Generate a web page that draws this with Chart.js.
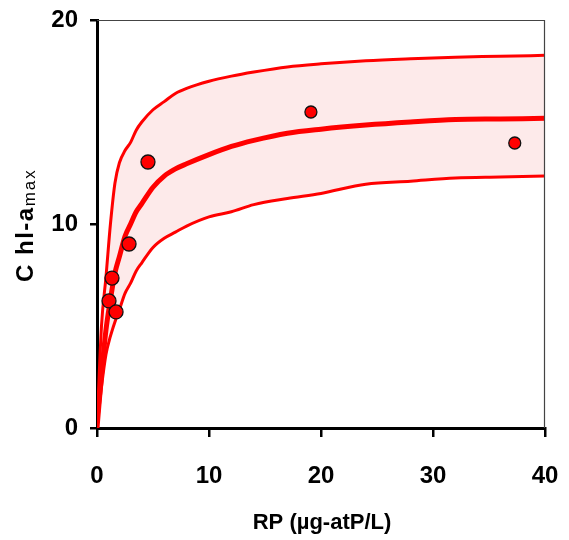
<!DOCTYPE html>
<html>
<head>
<meta charset="utf-8">
<script src="https://cdn.jsdelivr.net/npm/chart.js@4.4.0/dist/chart.umd.min.js"></script>
<style>
  html, body { margin: 0; padding: 0; background: #ffffff; }
  #wrap { width: 569px; height: 540px; }
</style>
</head>
<body>
<div id="wrap"><canvas id="c" width="569" height="540"></canvas></div>
<script>
// Curve sample x positions (RP, µg-atP/L)
const curveX   = [0, 0.4, 0.8, 1.2, 1.6, 2, 2.5, 3, 3.5, 4, 5, 6, 7, 8, 10, 12, 14, 17, 20, 24, 28, 32, 36, 40];
// Upper confidence bound
const upperY   = [0, 5.0, 7.4, 10.0, 12.0, 13.0, 13.6, 14.0, 14.6, 15.0, 15.6, 16.0, 16.4, 16.65, 17.0, 17.25, 17.45, 17.7, 17.85, 18.0, 18.1, 18.18, 18.22, 18.27];
// Fitted curve
const middleY  = [0, 2.6, 4.8, 6.3, 7.6, 8.4, 9.4, 10.0, 10.6, 11.0, 11.8, 12.35, 12.7, 12.95, 13.4, 13.8, 14.1, 14.45, 14.65, 14.85, 15.0, 15.12, 15.15, 15.18];
// Lower confidence bound
const lowerY   = [0, 2.0, 3.6, 4.5, 5.2, 5.8, 6.6, 7.1, 7.7, 8.1, 8.85, 9.3, 9.6, 9.9, 10.35, 10.6, 10.95, 11.25, 11.5, 11.95, 12.1, 12.25, 12.3, 12.35];
// Observations
const obsX     = [4.55, 2.86, 1.34, 1.07, 1.7, 19.1, 37.3];
const obsY     = [13.04, 9.02, 7.35, 6.23, 5.69, 15.49, 13.97];
// Ticks
const xTicks   = [0, 10, 20, 30, 40];
const yTicks   = [0, 10, 20];

const toXY = (xa, ya) => xa.map((x, i) => ({ x: x, y: ya[i] }));

const FONT = '"Liberation Sans", Arial, sans-serif';

const frameAndTitles = {
  id: 'frameAndTitles',
  afterDatasetsDraw(chart) {
    const ctx = chart.ctx;
    const a = chart.chartArea;
    ctx.save();
    ctx.strokeStyle = '#444444';
    ctx.lineWidth = 1.2;
    ctx.beginPath();
    ctx.moveTo(a.left, a.top + 0.5);
    ctx.lineTo(a.right - 0.5, a.top + 0.5);
    ctx.lineTo(a.right - 0.5, a.bottom);
    ctx.stroke();
    ctx.restore();
  },
  afterDraw(chart) {
    const ctx = chart.ctx;
    ctx.save();
    ctx.fillStyle = '#000000';
    ctx.font = 'bold 22px ' + FONT;
    ctx.textAlign = 'center';
    ctx.textBaseline = 'middle';
    ctx.fillText('RP (µg-atP/L)', 322, 523);
    ctx.translate(33, 282);
    ctx.rotate(-Math.PI / 2);
    ctx.textAlign = 'left';
    ctx.textBaseline = 'alphabetic';
    ctx.font = 'bold 24px ' + FONT;
    ctx.letterSpacing = '1.5px';
    const main = 'C hl-a';
    ctx.fillText(main, 0, 0);
    const w = ctx.measureText(main).width;
    ctx.font = '17px ' + FONT;
    ctx.letterSpacing = '2px';
    ctx.fillText('max', w, 2);
    ctx.restore();
  }
};

new Chart(document.getElementById('c'), {
  type: 'scatter',
  data: {
    datasets: [
      {
        label: 'Observed',
        data: toXY(obsX, obsY),
        backgroundColor: '#ff0000',
        borderColor: '#111111',
        borderWidth: 1.3,
        pointRadius: [7, 7, 7, 7, 7, 6, 6],
        pointHoverRadius: 7,
        showLine: false,
        order: 0
      },
      {
        label: 'Upper',
        data: toXY(curveX, upperY),
        showLine: true,
        borderColor: '#ff0000',
        borderWidth: 3,
        pointRadius: 0,
        cubicInterpolationMode: 'monotone',
        fill: { target: 3 },
        backgroundColor: '#fdeaea',
        order: 3
      },
      {
        label: 'Fit',
        data: toXY(curveX, middleY),
        showLine: true,
        borderColor: '#ff0000',
        borderWidth: 5,
        pointRadius: 0,
        cubicInterpolationMode: 'monotone',
        fill: false,
        order: 1
      },
      {
        label: 'Lower',
        data: toXY(curveX, lowerY),
        showLine: true,
        borderColor: '#ff0000',
        borderWidth: 3,
        pointRadius: 0,
        cubicInterpolationMode: 'monotone',
        fill: false,
        order: 2
      }
    ]
  },
  options: {
    responsive: false,
    animation: false,
    layout: { padding: { top: 20, right: 24, bottom: 0, left: 0 } },
    plugins: {
      legend: { display: false },
      tooltip: { enabled: false },
      filler: { propagate: false }
    },
    scales: {
      x: {
        type: 'linear',
        min: 0, max: 40,
        afterFit(s) { s.height = 112; s.paddingLeft = 0; s.paddingRight = 0; },
        afterBuildTicks(s) { s.ticks = xTicks.map(v => ({ value: v })); },
        grid: { drawOnChartArea: false, drawTicks: true, tickLength: 9, lineWidth: 2.5, color: '#000000' },
        border: { display: true, color: '#000000', width: 3 },
        ticks: { padding: 25, color: '#000000', font: { family: FONT, size: 24, weight: 'bold' } }
      },
      y: {
        type: 'linear',
        min: 0, max: 20,
        afterFit(s) { s.width = 97; s.paddingTop = 0; s.paddingBottom = 0; },
        afterBuildTicks(s) { s.ticks = yTicks.map(v => ({ value: v })); },
        grid: { drawOnChartArea: false, drawTicks: true, tickLength: 7, lineWidth: 2.5, color: '#000000' },
        border: { display: true, color: '#000000', width: 3 },
        ticks: { padding: 12, color: '#000000', font: { family: FONT, size: 24, weight: 'bold' } }
      }
    }
  },
  plugins: [frameAndTitles]
});
</script>
</body>
</html>
